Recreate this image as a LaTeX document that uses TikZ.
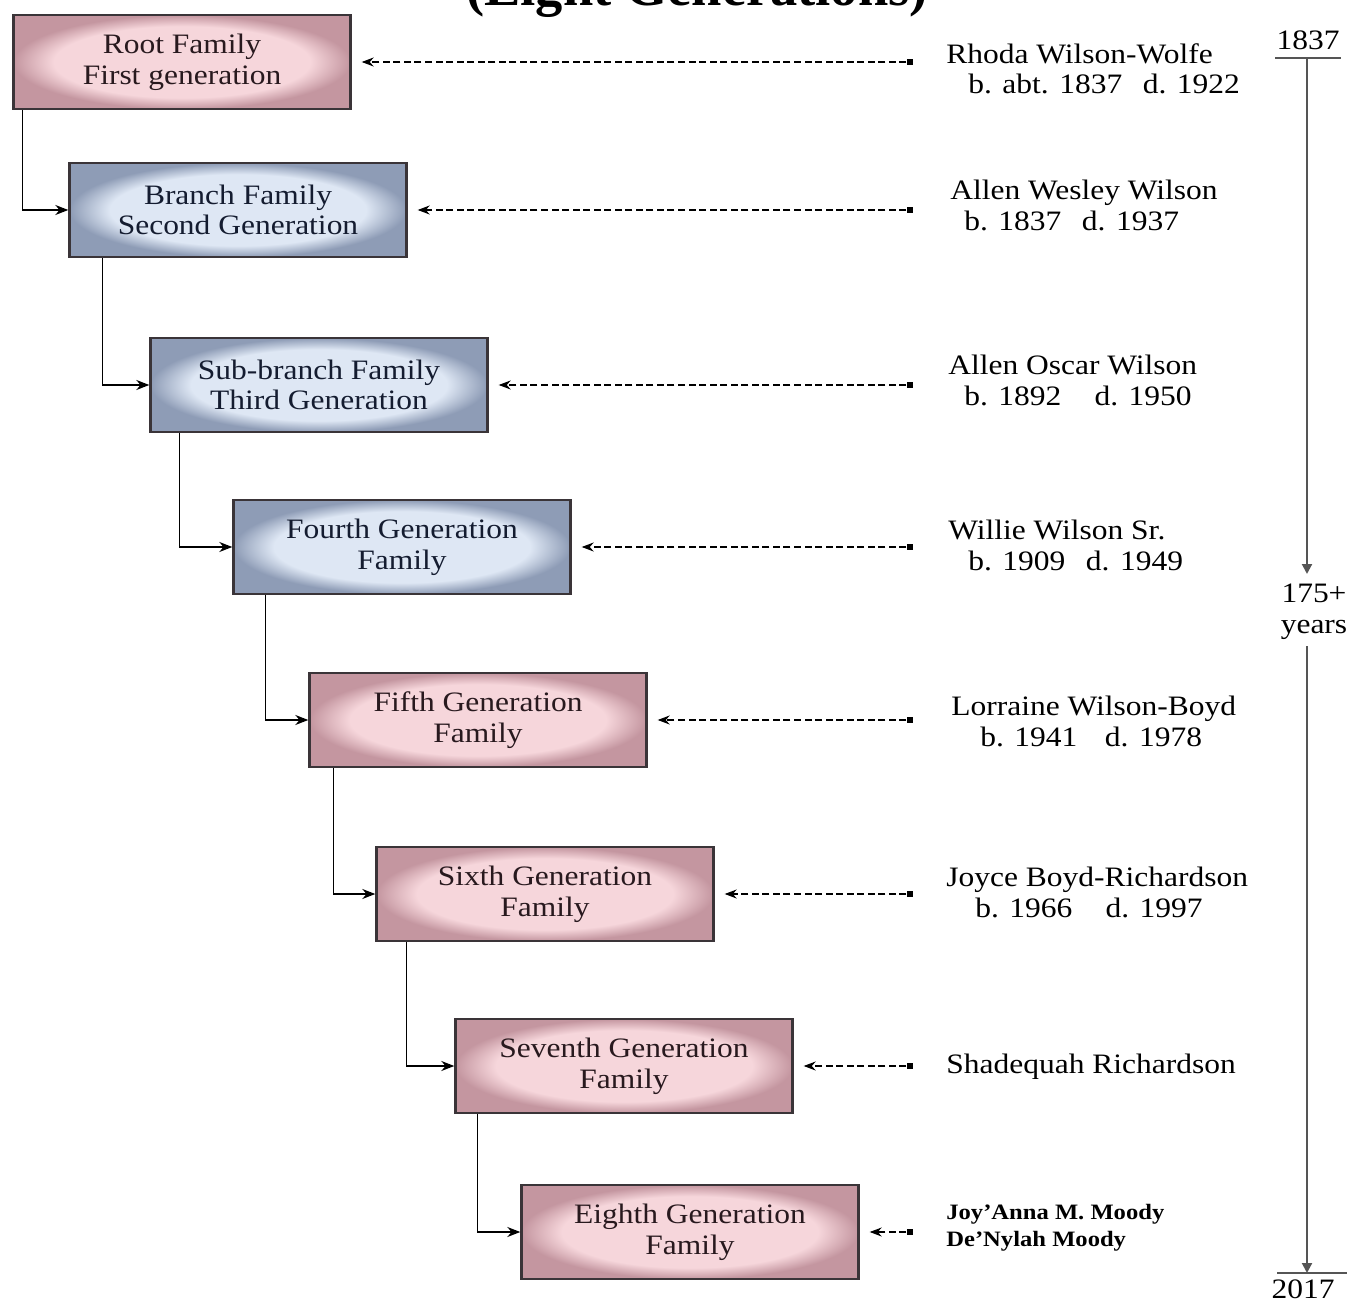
\documentclass[tikz,border=0pt]{standalone}
\usepackage{fontspec}
\setmainfont{Liberation Serif}[FakeStretch=1.12]
\newfontfamily\titlefont{Liberation Serif}
\usetikzlibrary{arrows.meta}
\definecolor{pinkin}{RGB}{246,214,219}
\definecolor{pinkout}{RGB}{196,150,160}
\definecolor{bluein}{RGB}{222,231,244}
\definecolor{blueout}{RGB}{142,156,182}
\definecolor{boxline}{RGB}{58,52,56}
\definecolor{timeline}{RGB}{85,85,85}
\pgfdeclareradialshading{PinkGlow}{\pgfpoint{0bp}{0bp}}{color(0bp)=(pinkin); color(19bp)=(pinkin); color(25bp)=(pinkout); color(50bp)=(pinkout)}
\pgfdeclareradialshading{BlueGlow}{\pgfpoint{0bp}{0bp}}{color(0bp)=(bluein); color(19bp)=(bluein); color(25bp)=(blueout); color(50bp)=(blueout)}
\tikzset{
  GenBox/.style = { rectangle, draw = boxline, line width = 1.4pt,
                    minimum width = 6.74cm, minimum height = 1.88cm,
                    align = center, font = \fontsize{16}{17.5}\selectfont },
  PinkBox/.style = { GenBox, shading = PinkGlow, text = {rgb,255:red,40;green,25;blue,30} },
  BlueBox/.style = { GenBox, shading = BlueGlow, text = {rgb,255:red,20;green,28;blue,48} },
  NameStyle/.style = { anchor = north west, align = left, inner sep = 0pt,
                       font = \fontsize{16}{17.5}\selectfont },
  DotStyle/.style = { rectangle, fill = black, inner sep = 0pt,
                      minimum size = 0.13cm },
  LinkStyle/.style = { line width = 0.8pt, -{Stealth[length=0.26cm, width=0.2cm]} },
  DashStyle/.style = { line width = 0.6pt, dash pattern = on 4pt off 2pt,
                       shorten > = 0.2cm, -{Stealth[length=0.24cm, width=0.18cm]} },
  YearStyle/.style = { inner sep = 0.1cm, align = center,
                       font = \fontsize{16}{17.5}\selectfont },
  TimeStyle/.style = { draw = timeline, line width = 1.2pt,
                       -{Triangle[length=0.2cm, width=0.2cm]} }
}

\begin{document}
\begin{tikzpicture}[x=0.02cm, y=-0.02cm]
  \useasboundingbox (0,0) rectangle (1350,1304);

  % title, cut by the top edge
  \node[anchor=base, inner sep=0pt,
        font=\titlefont\bfseries\fontsize{31}{31}\selectfont] (title) at (697,6) {(Eight Generations)};

  % generation boxes
  \node[PinkBox] (g1) at (182,62)  {Root Family\\First generation};
  \node[BlueBox] (g2) at (238,210) {Branch Family\\Second Generation};
  \node[BlueBox] (g3) at (319,385) {Sub-branch Family\\Third Generation};
  \node[BlueBox] (g4) at (402,547) {Fourth Generation\\Family};
  \node[PinkBox] (g5) at (478,720) {Fifth Generation\\Family};
  \node[PinkBox] (g6) at (545,894) {Sixth Generation\\Family};
  \node[PinkBox] (g7) at (624,1066) {Seventh Generation\\Family};
  \node[PinkBox] (g8) at (690,1232) {Eighth Generation\\Family};

  \draw[LinkStyle] ([xshift=0.2cm]g1.south west)  |- (g2);
  \draw[LinkStyle] ([xshift=0.68cm]g2.south west) |- (g3);
  \draw[LinkStyle] ([xshift=0.6cm]g3.south west)  |- (g4);
  \draw[LinkStyle] ([xshift=0.66cm]g4.south west) |- (g5);
  \draw[LinkStyle] ([xshift=0.5cm]g5.south west)  |- (g6);
  \draw[LinkStyle] ([xshift=0.62cm]g6.south west) |- (g7);
  \draw[LinkStyle] ([xshift=0.46cm]g7.south west) |- (g8);

  % people
  \node[NameStyle] (p1) at (946,43)  {Rhoda Wilson-Wolfe\\\hspace*{0.44cm}b. abt. 1837\hspace{0.45em} d. 1922};
  \node[NameStyle] (p2) at (950,180) {Allen Wesley Wilson\\\hspace*{0.28cm}b. 1837\hspace{0.45em} d. 1937};
  \node[NameStyle] (p3) at (948,355) {Allen Oscar Wilson\\\hspace*{0.32cm}b. 1892\hspace{0.9em} d. 1950};
  \node[NameStyle] (p4) at (948,520) {Willie Wilson Sr.\\\hspace*{0.4cm}b. 1909\hspace{0.45em} d. 1949};
  \node[NameStyle] (p5) at (951,696) {Lorraine Wilson-Boyd\\\hspace*{0.58cm}b. 1941\hspace{0.7em} d. 1978};
  \node[NameStyle] (p6) at (946,867) {Joyce Boyd-Richardson\\\hspace*{0.58cm}b. 1966\hspace{0.9em} d. 1997};
  \node[NameStyle] (p7) at (946,1054) {Shadequah Richardson};
  \node[NameStyle, font=\bfseries\fontsize{12.5}{15.5}\selectfont] (p8) at (946,1204) {Joy'Anna M. Moody\\De'Nylah Moody};

  \node[DotStyle] (d1) at (910,62)  {};
  \node[DotStyle] (d2) at (910,210) {};
  \node[DotStyle] (d3) at (910,385) {};
  \node[DotStyle] (d4) at (910,547) {};
  \node[DotStyle] (d5) at (910,720) {};
  \node[DotStyle] (d6) at (910,894) {};
  \node[DotStyle] (d7) at (910,1066) {};
  \node[DotStyle] (d8) at (910,1232) {};

  \draw[DashStyle] (d1) -- (g1);
  \draw[DashStyle] (d2) -- (g2);
  \draw[DashStyle] (d3) -- (g3);
  \draw[DashStyle] (d4) -- (g4);
  \draw[DashStyle] (d5) -- (g5);
  \draw[DashStyle] (d6) -- (g6);
  \draw[DashStyle] (d7) -- (g7);
  \draw[DashStyle] (d8) -- (g8);

  % time line
  \node[YearStyle] (y1) at (1308,40) {1837};
  \node[YearStyle] (span) at (1314,612) {175+\\years};
  \node[YearStyle] (y2) at (1303,1289) {2017};
  \coordinate (t1) at (1307,58);
  \coordinate (t2) at (1307,574);
  \coordinate (t3) at (1307,646);
  \coordinate (t4) at (1307,1273);
  \draw[timeline, line width=1.2pt] (1275,58) -- (1341,58);
  \draw[timeline, line width=1.2pt] (1277,1273) -- (1347,1273);
  \draw[TimeStyle] (t1) -- (t2);
  \draw[TimeStyle] (t3) -- (t4);
\end{tikzpicture}
\end{document}
